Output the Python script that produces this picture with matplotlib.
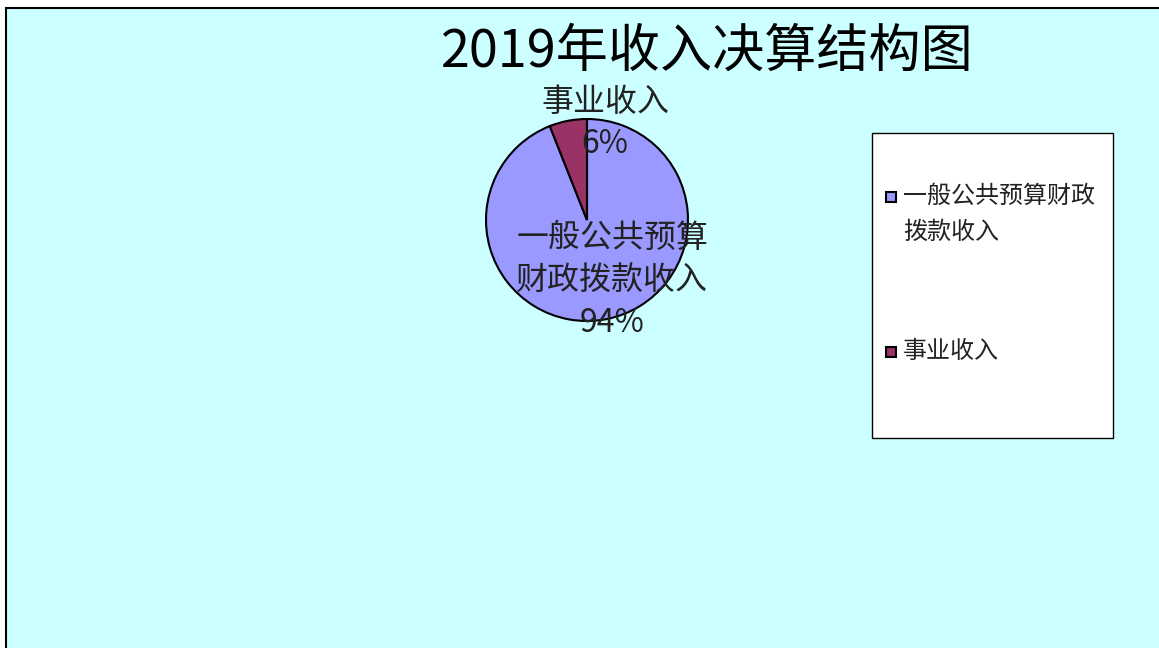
import matplotlib.pyplot as plt
from matplotlib.patches import Rectangle

plt.rcParams['font.family'] = ['Noto Sans CJK SC', 'DejaVu Sans']

title = '2019年收入决算结构图'
categories = ['一般公共预算财政拨款收入', '事业收入']
slice_labels = ['一般公共预算\n财政拨款收入', '事业收入']
legend_labels = ['一般公共预算财政\n拨款收入', '事业收入']
shares = [94, 6]
colors = ['#9999FF', '#993366']

W, H = 1159, 648
fig = plt.figure(figsize=(W / 100, H / 100), dpi=100)
fig.patch.set_facecolor('white')


def fx(px):
    return px / W


def fy(py):
    return 1 - py / H


# cyan chart area with black top/left border
fig.patches.append(Rectangle((fx(6), -0.1), 1.2, fy(8) + 0.1, transform=fig.transFigure,
                             facecolor='#CCFFFF', edgecolor='black', linewidth=1.5, zorder=-5))

fig.text(fx(707), fy(52), title, ha='center', va='center', fontsize=37.5, color='black')

# pie axes: centre (587, 220) px, radius 101 px
cx, cy, r = 587, 220, 101
ax = fig.add_axes([fx(cx - r), fy(cy + r), 2 * r / W, 2 * r / H])
ax.set_zorder(3)
wedges, _ = ax.pie(shares, colors=colors, startangle=90, counterclock=False,
                   wedgeprops=dict(edgecolor='black', linewidth=1.5))
ax.set_xlim(-1, 1)
ax.set_ylim(-1, 1)
ax.set_aspect('equal')
ax.axis('off')

label_pos = [(0.25, -0.60), (0.18, 0.96)]
for lab, val, (lx, ly) in zip(slice_labels, shares, label_pos):
    ax.text(lx, ly, f'{lab}\n{val}%', ha='center', va='center', fontsize=23,
            color='#222222', linespacing=1.42)

# legend box
fig.patches.append(Rectangle((fx(872), fy(438)), (1113 - 872) / W, (438 - 133) / H,
                             transform=fig.transFigure, facecolor='white',
                             edgecolor='black', linewidth=1.0, zorder=1))
entry_y = [183, 338]
for lab, col, ey in zip(legend_labels, colors, entry_y):
    fig.patches.append(Rectangle((fx(886), fy(ey + 19)), 10 / W, 10 / H,
                                 transform=fig.transFigure, facecolor=col,
                                 edgecolor='black', linewidth=1.5, zorder=2))
    fig.text(fx(903), fy(ey), lab, ha='left', va='top', fontsize=17.3,
             color='#222222', linespacing=1.5, zorder=3)

fig.savefig('out.png', dpi=100)
